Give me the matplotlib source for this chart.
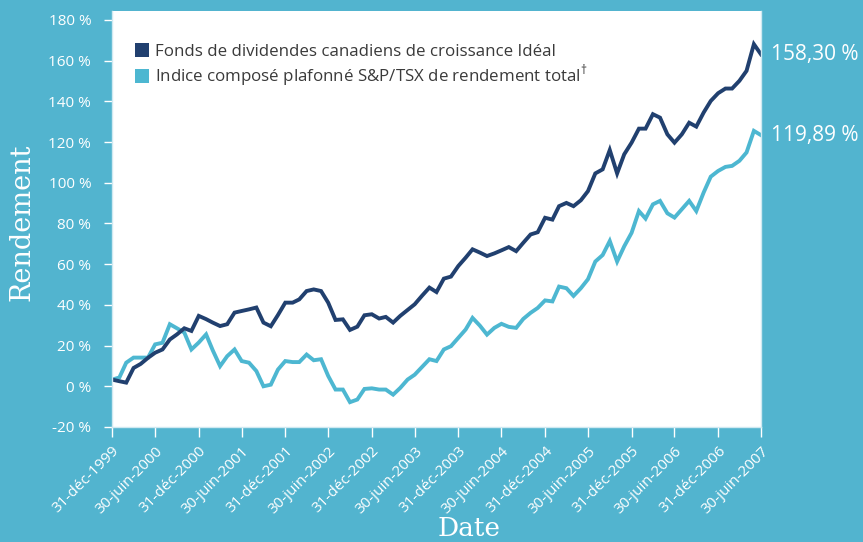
import numpy as np
import pandas as pd
import matplotlib
matplotlib.use("Agg")
import matplotlib.pyplot as plt
from matplotlib.patches import Patch

plt.rcParams['font.family'] = ['Open Sans', 'DejaVu Sans']
plt.rcParams['mathtext.fontset'] = 'custom'
plt.rcParams['mathtext.rm'] = 'Open Sans'

# donnees mensuelles (rendement cumulatif, %)
dates = pd.date_range('1999-12-31', '2007-06-30', freq='ME')

fonds = [3.3, 2.5, 1.8, 9, 11, 14, 16.5, 18.1, 23, 25.5,
         28.5, 27.2, 34.6, 33, 31.3, 29.6, 30.5, 36.2, 37, 37.8,
         38.7, 31.3, 29.5, 35, 41.1, 41.1, 42.7, 46.8, 47.6, 46.8,
         41.1, 32.6, 32.9, 27.7, 29.3, 34.9, 35.4, 33.3, 34.1, 31.3,
         34.6, 37.5, 40.3, 44.5, 48.5, 46.3, 52.9, 53.9, 59.1, 63.2,
         67.3, 65.7, 64, 65.3, 66.8, 68.4, 66.4, 70.5, 74.6, 75.7,
         82.8, 81.9, 88.5, 90.1, 88.5, 91.4, 95.9, 104.6, 106.6, 116.1,
         104.6, 114, 119.7, 126.6, 126.6, 133.7, 132, 123.8, 119.7, 123.8,
         129.5, 127.6, 134.5, 140.2, 144, 146.3, 146.3, 150.1, 155, 168.1,
         163.1]

indice = [3.3, 4.3, 11.6, 14.1, 14.1, 14.1, 20.6, 21.4, 30.5, 28.5,
          26.4, 18.1, 21.5, 25.5, 17.7, 9.9, 14.8, 18.1, 12.4, 11.6,
          7.5, 0, 0.8, 8.2, 12.4, 11.9, 11.9, 15.6, 12.8, 13.3,
          5.1, -1.6, -1.6, -7.8, -6.5, -1.3, -1, -1.6, -1.6, -4.1,
          -0.8, 3.3, 5.7, 9.5, 13.3, 12.4, 18.1, 19.7, 23.8, 27.9,
          33.6, 29.8, 25.4, 28.7, 30.7, 29.2, 28.7, 33.1, 36.1, 38.5,
          42.2, 41.7, 49, 48.2, 44.4, 48.2, 52.6, 61.3, 64.5, 71.4,
          61.3, 68.8, 75.4, 86.1, 82.4, 89.4, 91.1, 85, 82.9, 87,
          91.1, 86.1, 95.2, 103, 105.8, 107.8, 108.3, 110.8, 114.9, 125.5,
          123.4]

etiquettes = ['31-déc-1999', '30-juin-2000', '31-déc-2000', '30-juin-2001',
              '31-déc-2001', '30-juin-2002', '31-déc-2002', '30-juin-2003',
              '31-déc-2003', '30-juin-2004', '31-déc-2004', '30-juin-2005',
              '31-déc-2005', '30-juin-2006', '31-déc-2006', '30-juin-2007']

noms = ['Fonds de dividendes canadiens de croissance Idéal',
        r'Indice composé plafonné S&P/TSX de rendement total$^{\mathrm{†}}$']
finaux = ['158,30 %', '119,89 %']

fond_bleu = '#52b4cf'
marine = '#21406f'
turquoise = '#4db7d1'

fig = plt.figure(figsize=(8.63, 5.42), dpi=100, facecolor=fond_bleu)
ax = fig.add_axes([112/863, 1-427/542, 649/863, 416/542])
ax.set_facecolor('white')

ax.plot(dates, indice, color=turquoise, lw=2.8, solid_joinstyle='miter')
ax.plot(dates, fonds, color=marine, lw=2.8, solid_joinstyle='miter')

ax.set_xlim(dates[0], dates[-1])
ax.set_ylim(-20, 184.4)
ax.set_yticks(np.arange(-20, 181, 20))
ax.set_yticklabels([f'{v} %' for v in range(-20, 181, 20)])
ax.set_xticks(dates[::6])
ax.set_xticklabels(etiquettes, rotation=45, ha='right', rotation_mode='anchor')

ax.tick_params(axis='y', colors='white', labelsize=11, length=6, width=1, pad=9)
ax.tick_params(axis='x', colors='white', labelsize=11, length=7, width=1, pad=5)
ax.spines['top'].set_visible(False)
for s in ['left', 'right', 'bottom']:
    ax.spines[s].set_color('#cfe9f1')
    ax.spines[s].set_linewidth(1)

# valeurs finales
for serie, txt in zip([fonds, indice], finaux):
    ax.annotate(txt, xy=(dates[-1], serie[-1]), xytext=(7, 0),
                textcoords='offset points', va='center', ha='left',
                color='white', fontsize=15, annotation_clip=False)

poignees = [Patch(facecolor=marine, edgecolor='none'),
            Patch(facecolor=turquoise, edgecolor='none')]
leg = ax.legend(poignees, noms, loc='upper left', bbox_to_anchor=(0.035, 0.922),
                frameon=False, fontsize=12.2, handlelength=0.85, handleheight=0.85,
                handletextpad=0.35, labelspacing=0.15, borderpad=0, borderaxespad=0)
for t in leg.get_texts():
    t.set_color('#3a3a3a')

fig.text(22/863, 1-222/542, 'Rendement', rotation=90, ha='center', va='center',
         color='white', fontsize=19.5, family='DejaVu Serif')
fig.text(469/863, 1/542, 'Date', ha='center', va='bottom', color='white',
         fontsize=19, family='DejaVu Serif')

fig.savefig('out.png', dpi=100, facecolor=fond_bleu)
